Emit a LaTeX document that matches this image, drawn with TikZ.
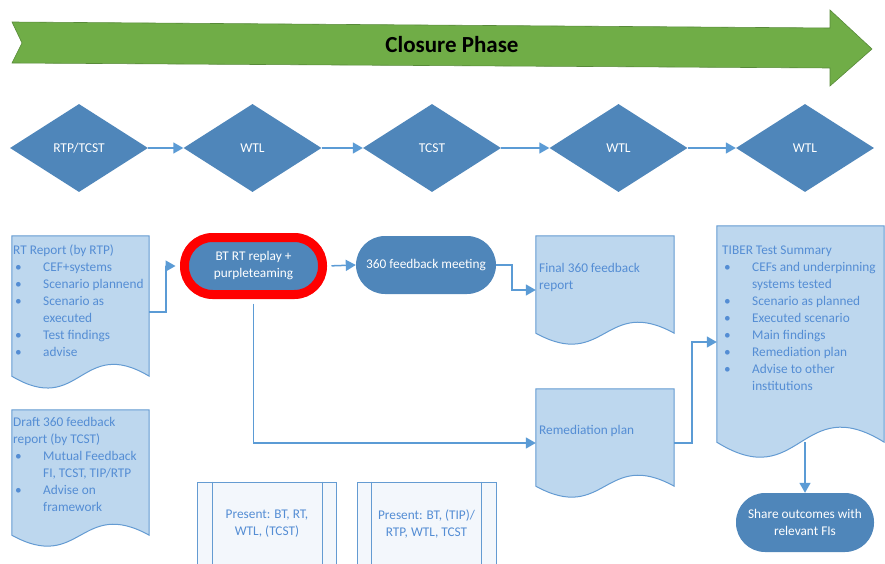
\documentclass[tikz,border=0pt]{standalone}
\usepackage{fontspec}
\setmainfont{Carlito}
\usetikzlibrary{shapes.geometric,arrows.meta,calc}

\definecolor{phasegreen}{RGB}{112,173,71}
\definecolor{phaseedge}{RGB}{88,138,58}
\definecolor{stepblue}{RGB}{79,134,186}
\definecolor{linkblue}{RGB}{91,155,213}
\definecolor{docfill}{RGB}{189,215,238}
\definecolor{docedge}{RGB}{100,155,210}
\definecolor{doctext}{RGB}{84,141,212}
\definecolor{presfill}{RGB}{243,247,252}

\tikzset{
  party/.style={diamond,fill=stepblue,text=white,minimum width=138pt,minimum height=88pt,inner sep=0pt,font=\fontsize{13.5}{16}\selectfont},
  meeting/.style={rectangle,fill=stepblue,text=white,align=center,inner sep=0pt,font=\fontsize{13.3}{17}\selectfont},
  docbox/.style={rectangle,inner sep=0pt},
  doctxt/.style={anchor=north west,inner sep=0pt,text=doctext,align=left,font=\fontsize{13.3}{17}\selectfont},
  present/.style={draw=docedge,fill=presfill,line width=1pt,minimum width=139pt,minimum height=84pt,inner sep=0pt,text=doctext,align=center,font=\fontsize{13.3}{17}\selectfont},
  link/.style={draw=linkblue,line width=1.5pt,-{Triangle[length=10pt,width=11pt]}},
}

% wavy document outline round a named node
\newcommand{\wavedoc}[2]{%
  \draw[draw=docedge,fill=docfill,line width=1pt] (#1.north west) -- (#1.north east) -- (#1.south east)
    .. controls ($(#1.south)+(0,-#2)$) and ($(#1.south)+(0,#2)$) .. (#1.south west) -- cycle;}
\newcommand{\bul}{\makebox[30pt][l]{\hspace{2pt}\textbullet}}
\newcommand{\cont}{\hspace*{30pt}}

\begin{document}
\begin{tikzpicture}[x=1pt,y=-1pt]
        \useasboundingbox (0,0) rectangle (885,564);
        \clip (0,0) rectangle (885,564);

        % phase arrow
        \filldraw[fill=phasegreen,draw=phaseedge,line width=0.6pt] (12,22)--(830,28)--(830,10)--(872,49)--(830,86)--(830,68)--(12,63)--(22,43)--cycle;
        \node[font=\fontsize{23}{26}\selectfont\bfseries] (phase) at (452,45) {Closure Phase};

        % parties
        \node[party] (d1) at (79,148) {RTP/TCST};
        \node[party] (d2) at (252.5,148) {WTL};
        \node[party] (d3) at (432,148) {TCST};
        \node[party] (d4) at (618.5,148) {WTL};
        \node[party] (d5) at (805,148) {WTL};
        \foreach \a/\b in {d1/d2,d2/d3,d3/d4,d4/d5}
            \draw[link] (\a.east) -- (\b.west);

        % documents
        \node[docbox,minimum width=137pt,minimum height=140pt] (rtrep) at (80.5,306) {};
        \node[docbox,minimum width=137pt,minimum height=125pt] (draft) at (80.5,472.5) {};
        \node[docbox,minimum width=138pt,minimum height=97pt] (final) at (605,284.5) {};
        \node[docbox,minimum width=138pt,minimum height=97pt] (remed) at (605,437.5) {};
        \node[docbox,minimum width=167pt,minimum height=216pt] (tiber) at (800.5,334) {};
        \wavedoc{rtrep}{41}
        \wavedoc{draft}{38}
        \wavedoc{final}{38}
        \wavedoc{remed}{38}
        \wavedoc{tiber}{52}

        \node[doctxt] (rtreptxt) at (13,245) {RT Report (by RTP)\\ \bul CEF+systems\\ \bul Scenario plannend\\ \bul Scenario as\\ \cont executed\\ \bul Test findings\\ \bul advise};
        \node[doctxt] (drafttxt) at (13,417) {Draft 360 feedback\\ report (by TCST)\\ \bul Mutual Feedback\\ \cont FI, TCST, TIP/RTP\\ \bul Advise on\\ \cont framework};
        \node[doctxt] (finaltxt) at (539,263) {Final 360 feedback\\ report};
        \node[doctxt] (remedtxt) at (539,425) {Remediation plan};
        \node[doctxt] (tibertxt) at (722,246) {TIBER Test Summary\\ \bul CEFs and underpinning\\ \cont systems tested\\ \bul Scenario as planned\\ \bul Executed scenario\\ \bul Main findings\\ \bul Remediation plan\\ \bul Advise to other\\ \cont institutions};

        % meetings
        \node[meeting,draw=red,line width=9pt,rounded corners=28pt,minimum width=138pt,minimum height=57pt] (replay) at (253.5,266) {BT RT replay +\\ purpleteaming};
        \node[meeting,rounded corners=29pt,minimum width=140pt,minimum height=58pt] (fbmeet) at (426,265) {360 feedback meeting};
        \node[meeting,rounded corners=29pt,minimum width=138pt,minimum height=59pt] (share) at (805,522.5) {Share outcomes with\\ relevant FIs};

        % who is present
        \node[present] (pres1) at (267,524) {Present: BT, RT,\\ WTL, (TCST)};
        \node[present] (pres2) at (426.5,524) {Present: BT, (TIP)/\\ RTP, WTL, TCST};
        \foreach \p in {pres1,pres2} {
            \draw[docedge,line width=1pt] ([xshift=15pt]\p.north west) -- ([xshift=15pt]\p.south west);
            \draw[docedge,line width=1pt] ([xshift=-15pt]\p.north east) -- ([xshift=-15pt]\p.south east);
        }

        % flow
        \draw[link,shorten >=4.5pt] ([yshift=-6pt]rtrep.east) -- ++(17,0) |- (replay.west);
        \draw[link,shorten <=4.5pt] (replay.east) -- (fbmeet.west);
        \draw[link] (fbmeet.east) -- ++(16,0) |- ([yshift=-5.5pt]final.west);
        \draw[link,shorten <=4.5pt] (replay.south) |- ([yshift=-5.5pt]remed.west);
        \draw[link] ([yshift=-5.5pt]remed.east) -- ++(18,0) |- ([yshift=-8pt]tiber.west);
        \draw[link] (tiber.south -| share.north) -- (share.north);
\end{tikzpicture}
\end{document}
